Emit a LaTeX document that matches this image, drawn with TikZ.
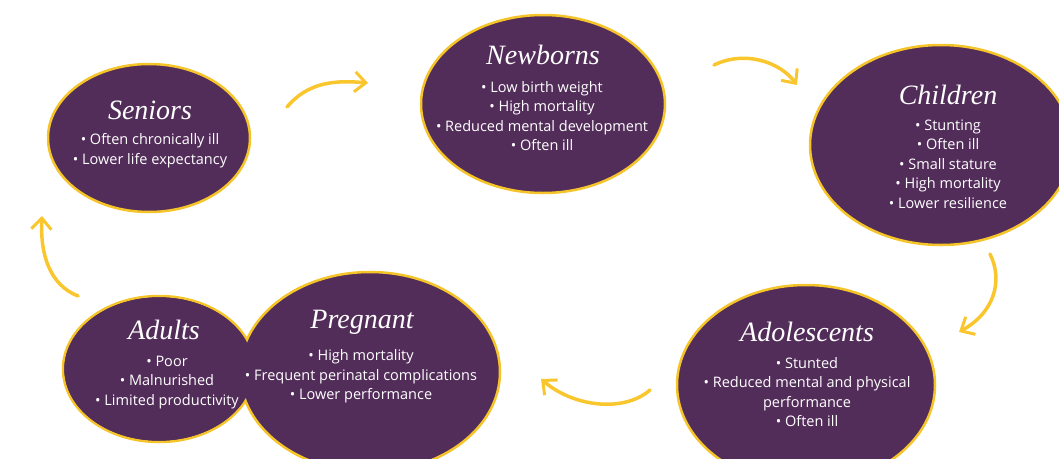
\documentclass[tikz,border=0pt]{standalone}
\usepackage{fontspec}
\setmainfont{Open Sans}
\newfontfamily\stagefont{Liberation Serif}
\usetikzlibrary{shapes.geometric, arrows.meta}

\definecolor{plum}{RGB}{83,45,90}
\definecolor{rim}{RGB}{245,196,40}
\definecolor{sun}{RGB}{250,198,45}

\tikzset{
    stage/.style={ellipse, draw=rim, line width=2.5pt, fill=plum, inner sep=0pt},
    stagename/.style={text=white, font=\stagefont\itshape\fontsize{28}{30}\selectfont},
    facts/.style={text=white, align=center, font=\fontsize{14.5}{19.5}\selectfont},
    turn/.style={draw=sun, line width=3.5pt, line cap=round,
        -{Straight Barb[length=11pt, width=20pt, line width=3pt]}},
}

\begin{document}
\begin{tikzpicture}[x=1pt, y=-1pt]
    \useasboundingbox (0,0) rectangle (1059,458);
    \clip (0,0) rectangle (1059,458);

    % the stages
    \node[stage, minimum width=202pt, minimum height=148pt](seniors)    at (149,138) {};
    \node[stage, minimum width=244pt, minimum height=178pt](newborns)   at (543,104) {};
    \node[stage, minimum width=262pt, minimum height=200pt](children)   at (941,145) {};
    \node[stage, minimum width=258pt, minimum height=200pt](adolescents) at (806,385) {};
    \node[stage, minimum width=192pt, minimum height=146pt](adults)     at (159,369) {};
    \node[stage, minimum width=260pt, minimum height=200pt](pregnant)   at (370,372) {};
    % hide the rim where adults and pregnant overlap
    \fill[plum] (adults.center) ellipse [x radius=94.7pt, y radius=71.7pt];

    % names and facts
    \node[stagename](seniorsName)     at (150,110) {Seniors};
    \node[facts](seniorsFacts)        at (150,150.5) {• Often chronically ill\\• Lower life expectancy};
    \node[stagename](newbornsName)    at (543,55) {Newborns};
    \node[facts](newbornsFacts)       at (542,116) {• Low birth weight\\• High mortality\\• Reduced mental development\\• Often ill};
    \node[stagename](childrenName)    at (948,95) {Children};
    \node[facts](childrenFacts)       at (948,164) {• Stunting\\• Often ill\\• Small stature\\• High mortality\\• Lower resilience};
    \node[stagename](adolescentsName) at (807,332) {Adolescents};
    \node[facts](adolescentsFacts)    at (807,392) {• Stunted\\• Reduced mental and physical\\performance\\• Often ill};
    \node[stagename](adultsName)      at (164,330) {Adults};
    \node[facts](adultsFacts)         at (167,382.5) {• Poor\\• Malnurished\\• Limited productivity};
    \node[stagename](pregnantName)    at (362,322) {Pregnant};
    \node[facts](pregnantFacts)       at (361,376.5) {• High mortality\\• Frequent perinatal complications\\• Lower performance};

    % arrows between the stages
    \coordinate (seniorsOut)     at (287,107);
    \coordinate (newbornsIn)     at (368,83);
    \coordinate (newbornsOut)    at (714,65);
    \coordinate (childrenIn)     at (797,85);
    \coordinate (childrenOut)    at (990,254);
    \coordinate (adolescentsIn)  at (959,332);
    \coordinate (adolescentsOut) at (650,390);
    \coordinate (pregnantIn)     at (541,379);
    \coordinate (adultsOut)      at (78,296);
    \coordinate (seniorsIn)      at (42,216);

    \draw[turn] (seniorsOut) .. controls (308,82) and (335,80) .. (newbornsIn);
    \draw[turn] (newbornsOut) .. controls (745,50) and (780,62) .. (childrenIn);
    \draw[turn] (childrenOut) .. controls (1003,280) and (995,312) .. (adolescentsIn);
    \draw[turn] (adolescentsOut) .. controls (625,412) and (575,408) .. (pregnantIn);
    \draw[turn] (adultsOut) .. controls (50,285) and (40,255) .. (seniorsIn);
\end{tikzpicture}
\end{document}
